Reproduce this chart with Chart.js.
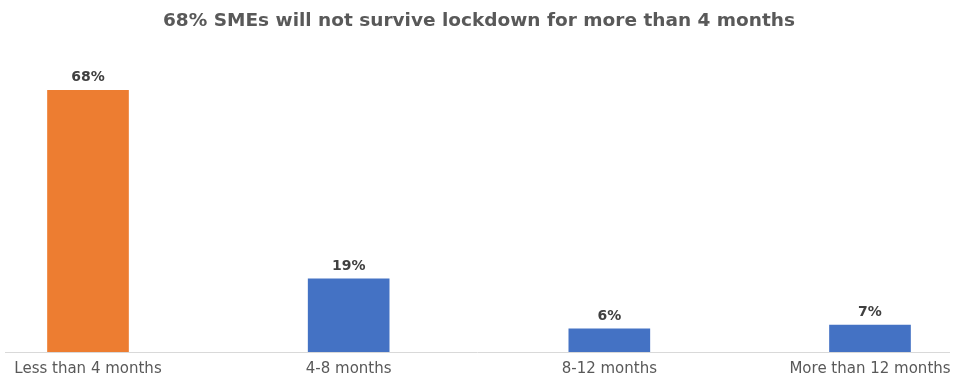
<!DOCTYPE html>
<html>
<head>
<meta charset="utf-8">
<script src="https://cdn.jsdelivr.net/npm/chart.js@4.4.0/dist/chart.umd.min.js"></script>
<style>
  html, body { margin: 0; padding: 0; background: #fff; }
  #wrap { width: 953px; height: 376px; position: relative; }
</style>
</head>
<body>
<div id="wrap"><canvas id="chart"></canvas></div>
<script>
const categories = ['Less than 4 months', '4-8 months', '8-12 months', 'More than 12 months'];
const shares = [68, 19, 6, 7];
const barColors = ['#ED7D31', '#4472C4', '#4472C4', '#4472C4'];
const titleText = '68% SMEs will not survive lockdown for more than 4 months';
const fontFamily = '"DejaVu Sans", sans-serif';

// value labels above bars + baseline across full width
const extras = {
    id: 'extras',
    afterDatasetsDraw(chart) {
        const ctx = chart.ctx;
        const y0 = chart.scales.y.getPixelForValue(0);
        ctx.save();
        ctx.strokeStyle = '#d9d9d9';
        ctx.lineWidth = 1;
        ctx.beginPath();
        ctx.moveTo(5, y0 + 0.5);
        ctx.lineTo(950, y0 + 0.5);
        ctx.stroke();

        ctx.font = 'bold 14px ' + fontFamily;
        ctx.fillStyle = '#404040';
        ctx.textAlign = 'center';
        ctx.textBaseline = 'middle';
        chart.getDatasetMeta(0).data.forEach((bar, i) => {
            ctx.fillText(shares[i] + '%', bar.x, bar.y - 13);
        });
        ctx.restore();
    }
};

new Chart(document.getElementById('chart'), {
    type: 'bar',
    data: {
        labels: categories,
        datasets: [{
            data: shares,
            backgroundColor: barColors,
            barThickness: 81,
            clip: false
        }]
    },
    options: {
        responsive: true,
        maintainAspectRatio: false,
        animation: false,
        layout: { padding: { left: 88, right: 83, top: 0, bottom: 0 } },
        plugins: {
            legend: { display: false },
            tooltip: { enabled: false },
            title: {
                display: true,
                text: titleText,
                color: '#595959',
                font: { family: fontFamily, size: 18.5, weight: 'bold' },
                padding: { top: 10, bottom: 12 }
            }
        },
        scales: {
            x: {
                offset: false,
                grid: { display: false },
                border: { display: false },
                ticks: {
                    color: '#595959',
                    font: { family: fontFamily, size: 15 },
                    padding: 0,
                    maxRotation: 0,
                    autoSkip: false
                },
                afterFit(scale) { scale.height = 24; }
            },
            y: {
                display: false,
                min: 0,
                max: 80
            }
        }
    },
    plugins: [extras]
});
</script>
</body>
</html>
